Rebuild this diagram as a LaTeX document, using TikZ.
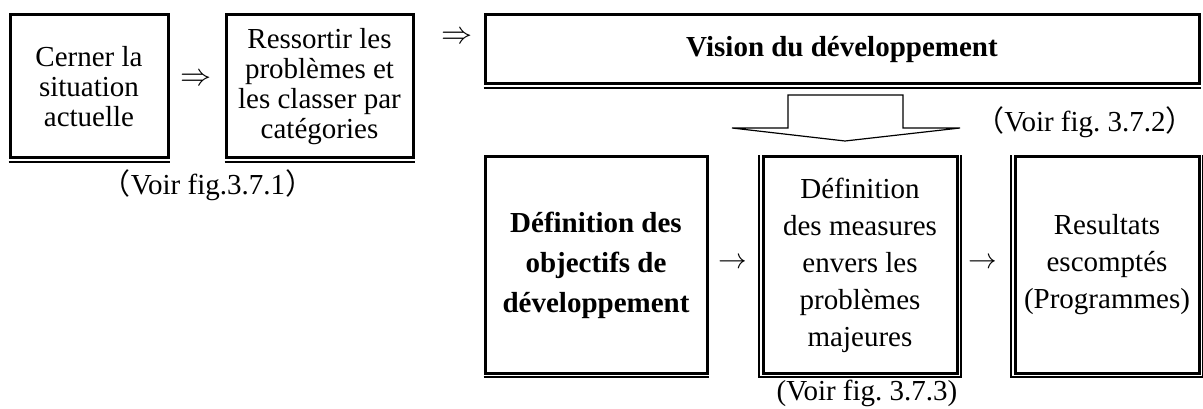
\documentclass[tikz,border=0pt]{standalone}
\usepackage{fontspec}
\setmainfont{Liberation Serif}
\newfontfamily\cjk{Noto Sans CJK JP}
\frenchspacing
\begin{document}
\begin{tikzpicture}
  [x=1pt,y=-1pt,
   every node/.style={font=\fontsize{29}{30}\selectfont,align=center,inner sep=0pt},
   box/.style={draw,line width=3pt,minimum height=143pt},
   lowbox/.style={draw,line width=3pt,minimum height=216pt,font=\fontsize{29}{37}\selectfont},
   note/.style={anchor=base},
   thinline/.style={line width=1.2pt}]
  \useasboundingbox (0,0) rectangle (1203,409);

  \node[box,minimum width=158pt] (cerner) at (89,86.5) {Cerner la\\situation\\actuelle};
  \node[box,minimum width=187pt] (ressortir) at (319.5,86.5) {Ressortir les\\probl\`emes et\\les classer par\\cat\'egories};
  \node[draw,line width=3pt,minimum width=714pt,minimum height=69pt,font=\bfseries\fontsize{29}{30}\selectfont] (vision) at (842,49.5) {Vision du d\'eveloppement};

  \node[lowbox,minimum width=222pt,font=\bfseries\fontsize{29}{40}\selectfont] (objectifs) at (596,265) {D\'efinition des\\objectifs de\\d\'eveloppement};
  \node[lowbox,minimum width=194pt] (mesures) at (860,265) {D\'efinition\\des measures\\envers les\\probl\`emes\\majeures};
  \node[lowbox,minimum width=184pt] (resultats) at (1107,265) {Resultats\\escompt\'es\\(Programmes)};

  \node (r1) at (196,80) {\scalebox{1.25}{$\Rightarrow$}};
  \node (r2) at (457,38) {\scalebox{1.25}{$\Rightarrow$}};
  \node (a1) at (733,263) {\scalebox{1.15}{$\rightarrow$}};
  \node (a2) at (983,263) {\scalebox{1.15}{$\rightarrow$}};

  \node[note] (voirA) at (208,195) {{\cjk（}Voir fig.3.7.1{\cjk）}};
  \node[note] (voirB) at (1085,132) {{\cjk（}Voir fig. 3.7.2{\cjk）}};
  \node[note] (voirC) at (867,400) {(Voir fig. 3.7.3)};

  % big arrow down from the vision
  \draw[thinline] (788,95) -- (903,95) -- (903,128) -- (960,128) -- (845,141)
    -- (732,128) -- (788,128) -- cycle;

  % second frame lines
  \foreach \n in {cerner,ressortir,vision,objectifs}
    \draw[thinline] ([yshift=-2.5pt]\n.south west) -- ([yshift=-2.5pt]\n.south east);
  \foreach \n in {mesures,resultats}
    \draw[thinline] ([xshift=-2.5pt]\n.north west) -- ([shift={(-2.5pt,-2.5pt)}]\n.south west)
      -- ([shift={(2.5pt,-2.5pt)}]\n.south east) -- ([xshift=2.5pt]\n.north east);

\end{tikzpicture}
\end{document}
